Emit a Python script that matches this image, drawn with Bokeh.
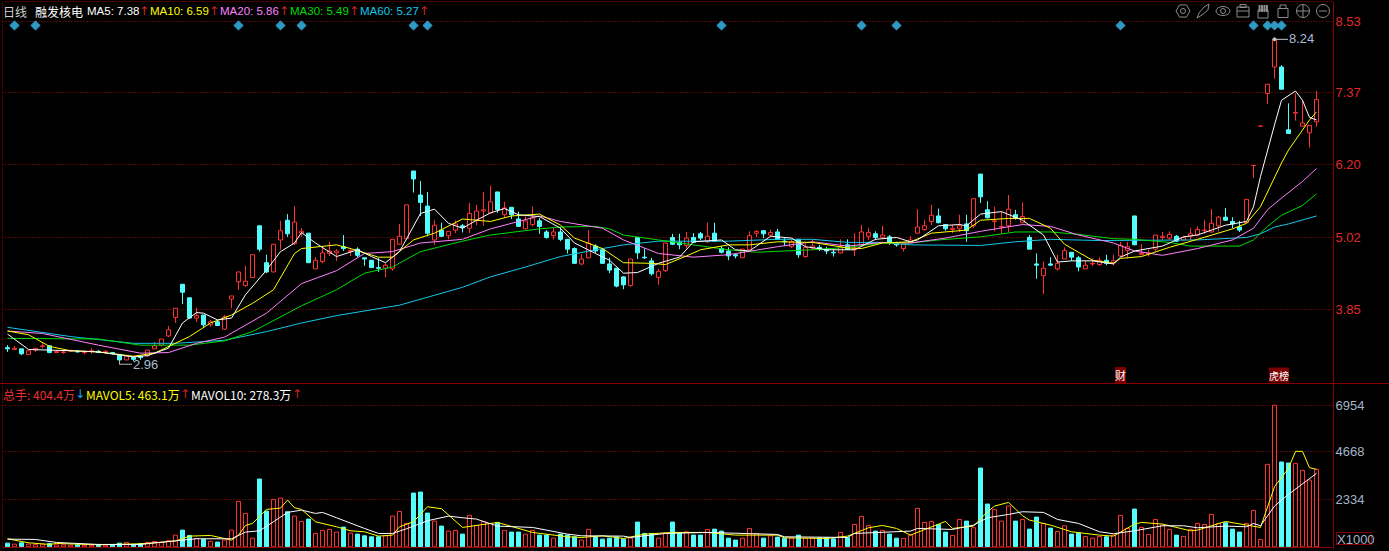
from bokeh.plotting import figure
from bokeh.models import ColumnDataSource, FixedTicker, Label, Spacer, Range1d, Span, NumeralTickFormatter, Div
from bokeh.layouts import column
from bokeh.embed import file_html
from bokeh.resources import INLINE

price_ticks = [8.53, 7.37, 6.20, 5.02, 3.85]
volume_ticks = [6954, 4668, 2334]

highs = [
 3.27,3.26,3.21,3.18,3.22,3.30,3.27,3.19,3.18,3.20,
 3.19,3.19,3.22,3.19,3.19,3.16,3.12,3.09,3.09,3.11,
 3.19,3.32,3.37,3.58,3.87,4.26,4.04,3.88,3.76,3.68,
 3.68,3.76,4.07,4.46,4.56,4.74,5.21,4.74,4.91,5.29,
 5.40,5.53,5.17,5.09,4.70,4.87,4.95,4.83,5.06,4.85,
 4.86,4.69,4.65,4.69,4.60,4.99,5.24,5.55,6.10,5.94,
 5.76,5.30,5.26,5.12,5.30,5.24,5.58,5.55,5.76,5.86,
 5.76,5.60,5.51,5.44,5.36,5.52,5.34,5.14,5.19,5.19,
 4.99,4.86,4.75,5.14,4.91,4.85,4.69,4.52,4.39,4.67,
 5.03,4.84,4.69,4.51,4.93,5.08,5.08,5.11,5.09,5.11,
 5.26,5.26,4.88,4.86,4.76,4.83,5.12,5.14,5.14,5.15,
 5.16,5.01,4.98,4.99,4.92,4.98,4.90,4.87,4.83,4.99,
 4.99,5.09,5.22,5.17,5.12,5.21,5.06,4.95,4.91,5.04,
 5.48,5.30,5.55,5.49,5.24,5.22,5.39,5.39,5.65,6.05,
 5.61,5.52,5.44,5.71,5.47,5.59,5.06,4.76,4.63,4.70,
 4.74,4.86,4.78,4.72,4.64,4.68,4.70,4.74,4.74,4.95,
 4.95,5.37,4.91,4.82,5.06,5.11,5.12,5.06,5.04,5.17,
 5.20,5.30,5.48,5.37,5.50,5.35,5.29,5.64,6.19,6.83,
 7.51,8.24,7.82,7.20,7.36,7.25,6.84,7.40]
lows = [
 3.16,3.19,3.11,3.12,3.16,3.22,3.14,3.14,3.13,3.16,
 3.15,3.12,3.13,3.14,3.13,3.12,2.96,3.03,3.01,3.03,
 3.08,3.21,3.25,3.40,3.63,3.94,3.71,3.65,3.55,3.57,
 3.59,3.52,3.87,4.17,4.22,4.37,4.79,4.44,4.46,4.82,
 5.03,4.90,5.03,4.61,4.51,4.60,4.72,4.64,4.80,4.72,
 4.70,4.56,4.53,4.46,4.37,4.48,4.90,5.00,5.75,5.37,
 5.04,4.90,5.03,4.99,5.09,5.10,5.09,5.22,5.21,5.42,
 5.42,5.35,5.32,5.20,5.16,5.20,5.08,5.00,4.99,4.96,
 4.76,4.59,4.57,4.69,4.77,4.59,4.44,4.21,4.18,4.22,
 4.67,4.67,4.40,4.25,4.46,4.90,4.83,4.84,4.93,4.98,
 4.93,4.96,4.76,4.65,4.68,4.69,4.82,5.03,5.01,5.04,
 4.98,4.88,4.85,4.69,4.69,4.82,4.80,4.75,4.71,4.76,
 4.82,4.72,4.88,4.98,4.98,5.01,4.90,4.87,4.79,4.93,
 5.08,5.13,5.22,5.25,5.13,5.09,5.11,4.95,5.17,5.58,
 5.33,5.12,5.08,5.11,5.31,5.25,4.83,4.35,4.10,4.56,
 4.48,4.67,4.64,4.47,4.51,4.56,4.56,4.57,4.57,4.70,
 4.68,4.90,4.74,4.71,4.80,4.98,4.98,4.95,4.97,4.97,
 5.06,5.08,5.10,5.12,5.29,5.17,5.11,5.25,5.99,6.83,
 7.19,7.60,7.43,6.71,6.92,6.83,6.48,6.82]
body_tops = [
 3.23,3.22,3.21,3.18,3.22,3.26,3.26,3.17,3.16,3.18,
 3.17,3.17,3.18,3.17,3.17,3.15,3.12,3.09,3.07,3.09,
 3.19,3.26,3.37,3.52,3.87,4.26,4.04,3.75,3.76,3.65,
 3.65,3.73,4.07,4.46,4.31,4.74,5.21,4.61,4.91,5.13,
 5.30,5.27,5.12,5.09,4.65,4.77,4.80,4.80,4.87,4.81,
 4.83,4.69,4.65,4.53,4.57,4.99,5.04,5.55,6.10,5.71,
 5.53,5.22,5.14,5.12,5.24,5.21,5.41,5.45,5.47,5.60,
 5.76,5.50,5.51,5.32,5.29,5.34,5.29,5.11,5.11,5.11,
 4.99,4.84,4.67,4.93,4.88,4.82,4.59,4.52,4.38,4.67,
 5.02,4.70,4.64,4.47,4.93,5.02,4.94,5.01,5.02,5.08,
 5.04,5.09,4.84,4.80,4.74,4.83,5.05,5.12,5.13,5.10,
 5.11,4.96,4.95,4.99,4.86,4.88,4.86,4.83,4.78,4.87,
 4.90,4.85,5.11,5.10,5.08,5.06,5.03,4.93,4.91,4.98,
 5.19,5.21,5.38,5.37,5.23,5.17,5.21,5.24,5.65,6.05,
 5.47,5.29,5.20,5.48,5.39,5.36,5.02,4.59,4.52,4.59,
 4.60,4.81,4.78,4.69,4.57,4.60,4.65,4.65,4.64,4.89,
 4.87,5.37,4.76,4.77,5.06,5.04,5.07,5.04,5.02,5.08,
 5.15,5.14,5.25,5.35,5.35,5.28,5.19,5.64,6.19,6.83,
 7.51,8.24,7.79,6.77,7.05,6.88,6.84,7.26]
body_bottoms = [
 3.21,3.20,3.13,3.12,3.19,3.25,3.15,3.15,3.15,3.17,
 3.16,3.15,3.17,3.15,3.15,3.13,3.03,3.03,3.04,3.07,
 3.10,3.21,3.27,3.42,3.72,4.13,3.71,3.71,3.60,3.60,
 3.59,3.53,4.02,4.30,4.24,4.37,4.83,4.46,4.46,4.98,
 5.08,4.92,5.09,4.61,4.51,4.63,4.76,4.77,4.84,4.79,
 4.73,4.67,4.53,4.52,4.52,4.51,4.91,5.00,5.97,5.59,
 5.09,4.98,5.04,5.05,5.14,5.18,5.17,5.30,5.45,5.42,
 5.47,5.39,5.39,5.20,5.16,5.23,5.20,5.02,5.05,4.99,
 4.83,4.60,4.59,4.69,4.80,4.60,4.49,4.23,4.25,4.24,
 4.77,4.69,4.43,4.37,4.48,4.91,4.90,4.89,4.94,5.01,
 4.95,4.96,4.78,4.72,4.72,4.69,4.82,5.09,5.08,5.06,
 4.99,4.95,4.87,4.74,4.71,4.85,4.83,4.80,4.77,4.77,
 4.83,4.82,4.90,5.04,5.02,5.02,4.94,4.90,4.84,4.94,
 5.09,5.15,5.28,5.26,5.16,5.15,5.16,5.13,5.21,5.68,
 5.34,5.28,5.19,5.21,5.33,5.26,4.83,4.57,4.40,4.57,
 4.51,4.67,4.70,4.54,4.51,4.59,4.58,4.60,4.61,4.72,
 4.81,4.90,4.74,4.75,4.83,5.02,5.01,4.96,4.98,5.04,
 5.06,5.13,5.11,5.21,5.30,5.24,5.14,5.26,6.19,6.83,
 7.36,7.79,7.43,6.71,7.04,6.83,6.72,6.90]
falling_days = [0,2,6,10,13,15,16,18,19,25,26,28,30,36,37,40,43,48,50,51,52,53,58,59,60,62,65,
 70,72,73,76,77,79,80,81,84,85,86,87,88,90,91,92,95,96,98,99,101,102,103,104,108,110,111,113,
 116,117,118,120,124,126,127,133,134,137,139,140,144,146,147,149,152,153,157,161,167,174,175,176,182,183]
volumes = [
 180,130,197,130,115,130,164,98,98,82,
 98,82,82,115,82,115,180,213,115,164,
 213,262,213,312,574,820,558,410,361,262,
 230,328,820,2230,1640,426,3330,1755,2330,2394,
 1722,1509,1246,1361,656,804,853,722,968,672,
 623,541,492,492,541,1509,1738,1148,2640,2690,
 1656,1263,1017,771,804,623,1542,1050,1230,1148,
 1197,804,722,722,623,804,574,574,426,623,
 574,492,328,853,492,377,426,492,377,426,
 1214,656,656,426,656,1214,656,738,574,574,
 853,869,771,426,328,426,902,656,426,541,
 476,426,410,574,410,426,443,443,394,705,
 443,1099,1492,1050,771,804,623,426,410,574,
 1886,1197,1246,1099,722,558,1345,1263,935,3870,
 2100,1837,1263,2000,1263,1345,869,1460,1148,918,
 754,1033,623,672,508,426,508,492,574,1542,
 902,1853,951,607,1345,1066,853,574,508,853,
 1148,1099,1591,1148,1181,869,722,1148,1788,361,
 4051,6954,4166,4116,4100,3756,3280,3805]

ma60_days = [0,9,18,24,31,37,42,47,56,65,69,74,79,84,88,93,103,110,115,120,125,129,139,144,149,156,170,177,179,181,183,187]
ma60 = [3.56,3.41,3.30,3.30,3.35,3.49,3.63,3.75,3.92,4.21,4.38,4.54,4.71,4.82,4.90,4.96,4.96,4.99,4.99,4.94,4.94,4.90,4.89,4.95,4.99,4.97,4.98,5.02,5.08,5.19,5.24,5.37]
ma30_days = [0,13,19,26,31,35,42,47,51,55,59,65,69,76,79,84,86,88,93,98,103,107,115,120,125,129,133,139,144,149,153,158,161,166,169,176,178,180,182,185,187]
ma30 = [3.38,3.37,3.27,3.27,3.34,3.49,3.91,4.17,4.44,4.54,4.79,4.96,5.06,5.16,5.19,5.20,5.16,5.06,4.98,4.90,4.82,4.78,4.82,4.86,4.93,4.93,4.98,5.03,5.11,5.11,5.07,5.00,4.99,4.94,4.88,4.88,4.98,5.20,5.38,5.54,5.73]
ma20_days = [0,5,13,19,23,27,31,37,42,47,51,55,59,65,69,76,79,85,88,93,98,103,110,115,120,125,129,134,139,145,149,153,158,161,165,170,175,178,180,182,185,187]
ma20 = [3.50,3.46,3.27,3.14,3.15,3.30,3.40,3.79,4.27,4.48,4.76,4.79,4.93,4.99,5.16,5.37,5.28,5.17,4.98,4.76,4.70,4.74,4.87,4.95,4.88,4.94,4.93,5.01,5.12,5.23,5.20,5.06,4.93,4.80,4.73,4.84,4.98,5.17,5.47,5.66,5.93,6.14]
ma10_days = [0,3,6,9,13,18,21,26,29,32,35,38,41,42,47,49,53,55,58,61,65,69,72,76,79,81,85,88,92,94,97,99,103,106,110,115,120,122,125,129,132,137,139,143,146,149,151,155,158,159,162,166,170,175,177,179,182,183,186,187]
ma10 = [3.50,3.44,3.25,3.18,3.16,3.09,3.14,3.41,3.63,3.76,3.95,4.17,4.76,4.84,4.90,4.84,4.70,4.70,4.98,5.09,5.32,5.28,5.37,5.40,5.22,5.01,4.84,4.61,4.60,4.58,4.72,4.82,4.90,4.90,4.95,4.94,4.85,4.84,4.93,4.95,5.09,5.14,5.30,5.33,5.33,5.17,4.91,4.65,4.60,4.68,4.71,4.86,4.99,5.16,5.25,5.52,6.23,6.44,6.93,7.06]
ma5_days = [0,3,6,9,13,18,20,23,25,27,28,30,32,34,37,39,41,42,44,47,50,52,54,56,59,61,63,65,67,69,71,73,76,79,81,84,86,88,90,93,96,98,102,104,106,109,112,114,117,121,124,127,129,130,133,136,137,139,142,145,148,150,152,155,158,159,161,165,168,170,174,177,178,179,181,182,184,185,186,187]
ma5 = [3.45,3.20,3.19,3.18,3.16,3.08,3.10,3.22,3.63,3.80,3.79,3.68,3.71,4.09,4.49,4.79,4.93,5.10,4.93,4.71,4.82,4.71,4.61,4.79,5.41,5.48,5.25,5.17,5.30,5.42,5.49,5.39,5.36,5.17,4.93,4.76,4.65,4.44,4.45,4.60,4.70,4.95,4.98,4.82,4.80,5.04,5.01,4.87,4.82,4.82,4.99,5.02,4.95,4.98,5.21,5.23,5.21,5.40,5.44,5.30,5.06,4.62,4.64,4.64,4.59,4.70,4.80,4.88,5.03,5.06,5.22,5.28,5.52,6.01,6.85,7.25,7.40,7.25,6.97,6.93]

mavol5_days = [0,3,6,7,13,19,24,26,29,32,33,34,35,37,39,40,41,42,44,47,49,51,53,55,56,58,60,62,65,70,75,80,82,85,88,91,95,100,104,110,111,117,120,123,125,127,129,134,135,138,140,141,143,145,146,149,152,156,158,161,162,165,169,170,174,177,179,181,183,184,185,186,187]
mavol5 = [394,197,115,164,98,148,279,525,558,328,574,1050,1148,1837,1902,2296,1919,1837,1230,984,787,738,525,574,984,1230,1968,1870,951,1197,705,492,459,541,410,623,705,705,574,574,443,410,525,935,1050,902,574,1246,902,1017,1722,2000,2181,1525,1312,1066,738,574,525,1115,1197,1115,787,820,1246,1066,951,2952,3854,4690,4690,3887,3805]
mavol10_days = [0,4,7,13,19,24,27,32,34,36,38,40,42,44,45,47,51,53,55,57,60,63,65,67,70,75,80,82,88,89,94,100,110,111,120,121,129,130,135,138,140,143,145,148,150,153,156,158,161,165,168,170,174,177,178,179,181,183,187]
mavol10 = [377,361,213,115,115,295,394,394,722,787,1230,1689,1804,1640,1689,1427,902,656,656,886,1279,1509,1427,1361,1017,951,623,541,525,459,656,705,607,492,459,656,771,902,853,1066,1427,1591,1722,1689,1345,1148,738,640,787,1033,1033,935,1017,984,1148,1033,2000,2575,3608]

limit_up_days = [1,4,33,39,42,58,60,102,122,127,159,178,180,181,182]
marker_price = 8.465

BG = "#000000"; FRAME = "#8b0000"; RED = "#ff3232"; AQUA = "#54fcfc"; GRID = "#9c1010"
WHITE = "#ffffff"; YELLOW = "#ffff00"; PINK = "#ff80ff"; GREEN = "#00dc00"; SKY = "#14c8e8"
SANS = "Liberation Sans"; CJK = "Noto Sans CJK SC"; ARROW = "DejaVu Sans"
ICON = "#8c8c8c"

def lx(px): return (px - 7.5) / 7.0
def ly(py): return 8.879 - 0.01625 * py
def vy(py): return (546.8 - py) * 49.13

# the canvas draws half a pixel off, so the ranges start half a pixel further on
x_range = Range1d(lx(2.5), lx(1333.5))

def base(height, y_range, top, bottom):
    f = figure(width=1389, height=height, output_backend="svg", toolbar_location=None,
               x_range=x_range, y_range=y_range, x_axis_location=None, y_axis_location="right",
               background_fill_color=BG, border_fill_color=BG,
               min_border_left=2, min_border_right=56, min_border_top=top, min_border_bottom=bottom)
    f.outline_line_color = None
    f.add_layout(Span(location=lx(2.5), dimension="height", line_color=FRAME, line_width=1))
    f.xgrid.visible = False
    f.yaxis.axis_line_color = FRAME
    f.yaxis.major_tick_line_color = None
    f.yaxis.minor_tick_line_color = None
    f.yaxis.major_tick_out = 0
    f.yaxis.major_tick_in = 0
    f.yaxis.minor_tick_out = 0
    f.yaxis.minor_tick_in = 0
    f.yaxis.major_label_text_font = SANS
    f.yaxis.major_label_text_font_size = "13px"
    f.yaxis.major_label_standoff = 2
    f.ygrid.grid_line_color = GRID
    f.ygrid.grid_line_dash = "1 2"
    f.ygrid.grid_line_width = 1
    return f

def text(f, x, y, s, color, font=SANS, size="12px", **kw):
    f.add_layout(Label(x=x, y=y, text=s, text_color=color, text_font=font, text_font_size=size,
                       text_baseline="middle", text_align="left", **kw))

def outlines(tops, bottoms):
    half = 2 / 7
    xs = [[d - half, d + half, d + half, d - half, d - half] for d in days]
    ys = [[b, b, t, t, b] for t, b in zip(tops, bottoms)]
    return xs, ys

days = list(range(len(highs)))
falling = set(falling_days)
colors = [AQUA if d in falling else RED for d in days]
fills = [AQUA if d in falling else BG for d in days]
BAR = 4 / 7

price = base(383, Range1d(ly(383.5), ly(1.5)), 1, 0)
price.add_layout(Span(location=ly(1.5), dimension="width", line_color=FRAME, line_width=1))
price.yaxis.ticker = FixedTicker(ticks=price_ticks)
price.ygrid.ticker = FixedTicker(ticks=price_ticks)
price.yaxis.formatter = NumeralTickFormatter(format="0.00")
price.yaxis.major_label_text_color = "#e02828"

xs, ys = outlines(body_tops, body_bottoms)
cs = ColumnDataSource(dict(x=days, high=highs, low=lows, top=body_tops, bottom=body_bottoms,
                           c=colors, fill=fills, xs=xs, ys=ys))
price.segment("x", "high", "x", "low", source=cs, line_color="c", line_width=1)
price.vbar("x", BAR, "top", "bottom", source=cs, line_color=None, fill_color="fill")
price.multi_line("xs", "ys", source=cs, line_color="c", line_width=1)

for mx, my, col in [(ma60_days, ma60, SKY), (ma30_days, ma30, GREEN), (ma20_days, ma20, PINK),
                    (ma10_days, ma10, YELLOW), (ma5_days, ma5, WHITE)]:
    price.line(mx, my, line_color=col, line_width=1)

price.scatter(limit_up_days, [marker_price] * len(limit_up_days), marker="square", angle=0.7854, size=6.5,
              fill_color="#2e9ac6", line_color="#2e9ac6")

# high / low annotations
price.line([181, lx(1288)], [8.24, 8.24], line_color="#c8c8c8", line_width=1)
price.scatter([181], [8.24], marker="circle", size=3, fill_color="#c8c8c8", line_color="#c8c8c8")
text(price, lx(1289), 8.255, "8.24", "#a9bccf", size="13px")
price.line([16, 16, lx(132)], [3.04, 2.96, 2.96], line_color="#b8b8b8", line_width=1)
text(price, lx(133), 2.955, "2.96", "#a9bccf", size="13px")

# header line
text(price, lx(3), ly(11), "日线", "#cfcfcf", CJK, "12px")
text(price, lx(35), ly(11), "融发核电", WHITE, CJK, "12px")
header = [(87, "MA5: 7.38", WHITE, 139), (150, "MA10: 6.59", YELLOW, 209), (220, "MA20: 5.86", PINK, 279),
          (290, "MA30: 5.49", GREEN, 349), (360, "MA60: 5.27", SKY, 419)]
for px, s, col, ax in header:
    text(price, lx(px), ly(11), s, col, size="11.5px")
    text(price, lx(ax), ly(11), "↑", "#d82020", ARROW, "12px")

# event tags
text(price, lx(1115), ly(375), "财", WHITE, CJK, "11px", background_fill_color="#7a0000")
text(price, lx(1269), ly(375), "虎榜", WHITE, CJK, "10px", background_fill_color="#7a0000")

# toolbar icons
iy = ly(11)
price.scatter([lx(1183)], [iy], marker="hex", size=14, fill_color=None, line_color=ICON)
price.scatter([lx(1183)], [iy], marker="circle", size=5, fill_color=None, line_color=ICON)
price.patch([lx(1197), lx(1199), lx(1204), lx(1209), lx(1208), lx(1202)],
            [ly(18), ly(13), ly(7), ly(4), ly(10), ly(15)], fill_color=None, line_color=ICON)
price.ellipse([lx(1223)], [iy], width=14, height=9, width_units="screen", height_units="screen",
              fill_color=None, line_color=ICON)
price.scatter([lx(1223)], [iy], marker="circle", size=5, fill_color=None, line_color=ICON)
price.rect([lx(1243)], [ly(12)], width=12, height=10, width_units="screen", height_units="screen",
           fill_color=None, line_color=ICON)
price.rect([lx(1243)], [ly(6)], width=6, height=3, width_units="screen", height_units="screen",
           fill_color=None, line_color=ICON)
price.line([lx(1237), lx(1249)], [ly(11), ly(11)], line_color=ICON)
for fx in [1259.5, 1262, 1264.5, 1267]:
    price.line([lx(fx), lx(fx)], [ly(5), ly(12)], line_color=ICON, line_width=2)
price.rect([lx(1263)], [ly(14)], width=10, height=8, width_units="screen", height_units="screen",
           fill_color=None, line_color=ICON)
price.rect([lx(1283)], [ly(13)], width=10, height=9, width_units="screen", height_units="screen",
           fill_color=None, line_color=ICON)
price.line([lx(1280), lx(1280), lx(1286), lx(1286)], [ly(9), ly(5), ly(5), ly(9)], line_color=ICON)
price.scatter([lx(1303)], [iy], marker="circle_cross", size=13, fill_color=None, line_color=ICON)
price.scatter([lx(1323)], [iy], marker="circle", size=13, fill_color=None, line_color=ICON)
price.line([lx(1319), lx(1327)], [iy, iy], line_color=ICON)

# volume panel
vol = base(167, Range1d(vy(548.5), vy(384.5)), 0, 3)
vol.add_layout(Span(location=vy(547.5), dimension="width", line_color=FRAME, line_width=1))
vol.yaxis.ticker = FixedTicker(ticks=volume_ticks)
vol.ygrid.ticker = FixedTicker(ticks=volume_ticks)
vol.yaxis.major_label_text_color = "#a3b4c6"
vxs, vys = outlines(volumes, [0] * len(volumes))
vs = ColumnDataSource(dict(x=days, v=volumes, c=colors, fill=fills, xs=vxs, ys=vys))
vol.vbar("x", BAR, "v", 0, source=vs, line_color=None, fill_color="fill")
vol.multi_line("xs", "ys", source=vs, line_color="c", line_width=1)
vol.line(mavol5_days, mavol5, line_color=YELLOW, line_width=1)
vol.line(mavol10_days, mavol10, line_color=WHITE, line_width=1)

vtext = vy(394)
text(vol, lx(3), vtext, "总手: 404.4万", "#e83030", CJK)
text(vol, lx(75), vtext, "↓", "#14a8e8", ARROW, "12px")
text(vol, lx(86), vtext, "MAVOL5: 463.1万", YELLOW, CJK)
text(vol, lx(180), vtext, "↑", "#d82020", ARROW, "12px")
text(vol, lx(191), vtext, "MAVOL10: 278.3万", WHITE, CJK)
text(vol, lx(292), vtext, "↑", "#d82020", ARROW, "12px")

scale_tag = Div(text="X1000", width=36, height=13,
                styles={"position": "absolute", "left": "1331px", "top": "527px", "color": "#a3b4c6",
                        "font-family": SANS, "font-size": "13px", "line-height": "13px", "text-align": "left",
                        "border": "1px solid #8b0000", "background-color": BG, "padding": "0"})

divider = Spacer(width=1389, height=1, styles={"background-color": FRAME})
page = column(price, divider, vol, scale_tag, spacing=0,
              styles={"position": "absolute", "left": "0", "top": "0", "background-color": BG})

open("out.html", "w").write(file_html(page, INLINE))
